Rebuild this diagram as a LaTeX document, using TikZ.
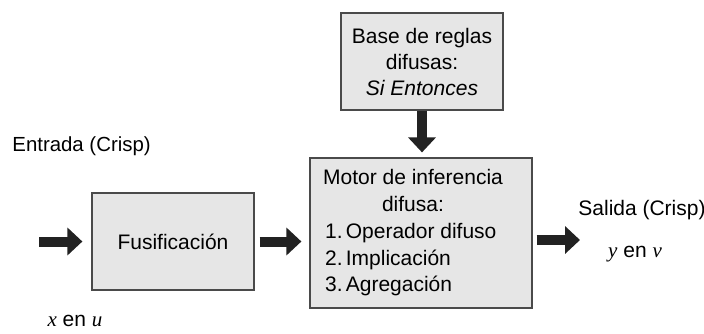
\documentclass[tikz,border=0pt]{standalone}
\usepackage{fontspec}
\setmainfont{Liberation Sans}
\newfontfamily\mathserif{Liberation Serif}
\usetikzlibrary{arrows.meta}
\definecolor{boxfill}{HTML}{E6E6E6}
\definecolor{boxline}{HTML}{4A4A4A}
\definecolor{arrowcol}{HTML}{222222}
\begin{document}
\begin{tikzpicture}[x=0.5pt,y=-0.5pt,
  blockbox/.style={draw=boxline, fill=boxfill, line width=0.6pt, inner sep=0pt, font=\fontsize{10.5pt}{13pt}\selectfont, align=center},
  fatarrow/.style={draw=arrowcol, line width=5pt, -{Triangle[width=13.5pt,length=7.5pt]}},
  label/.style={font=\fontsize{10.5pt}{13pt}\selectfont, inner sep=0pt}]
\useasboundingbox (0,0) rectangle (704,333);
\node[blockbox, minimum width=81pt, minimum height=48.5pt] (fus) at (173,241.5) {Fusificación};
\node[blockbox, minimum width=111pt, minimum height=75pt] (motor) at (421,233)
  {\begin{tabular}{@{}l@{\hspace{8pt}}}\multicolumn{1}{@{}c@{\hspace{8pt}}}{Motor de inferencia}\\[0.4pt]
   \multicolumn{1}{@{}c@{\hspace{8pt}}}{difusa:}\\[0.4pt]
   \hspace{1pt}1.\hspace{1.6pt}Operador difuso\\[0.4pt]
   \hspace{1pt}2.\hspace{1.6pt}Implicación\\[0.4pt]
   \hspace{1pt}3.\hspace{1.6pt}Agregación\end{tabular}};
\node[blockbox, minimum width=81pt, minimum height=48.5pt] (base) at (422,61.5)
  {Base de reglas\\difusas:\\\textit{Si Entonces}};
\node[label, anchor=base west, font=\fontsize{10.2pt}{13pt}\selectfont] (entrada) at (12,151) {Entrada (Crisp)};
\node[label, anchor=base] (xu) at (75,326) {{\mathserif\itshape x} en {\mathserif\itshape u}};
\node[label, anchor=base west] (salida) at (578,215) {Salida (Crisp)};
\node[label, anchor=base] (yv) at (635,257) {{\mathserif\itshape y} en {\mathserif\itshape v}};
\coordinate (inpt) at (39,241.5);
\coordinate (outpt) at (580,240);
\draw[fatarrow, shorten >=4.5pt] (inpt) -- (fus.west);
\draw[fatarrow, shorten <=2.5pt, shorten >=4pt] (fus.east) -- (fus.east -| motor.west);
\draw[fatarrow, shorten >=2.5pt] (base.south) -- (base.south |- motor.north);
\draw[fatarrow, shorten <=2pt] (motor.east |- outpt) -- (outpt);
\end{tikzpicture}
\end{document}
